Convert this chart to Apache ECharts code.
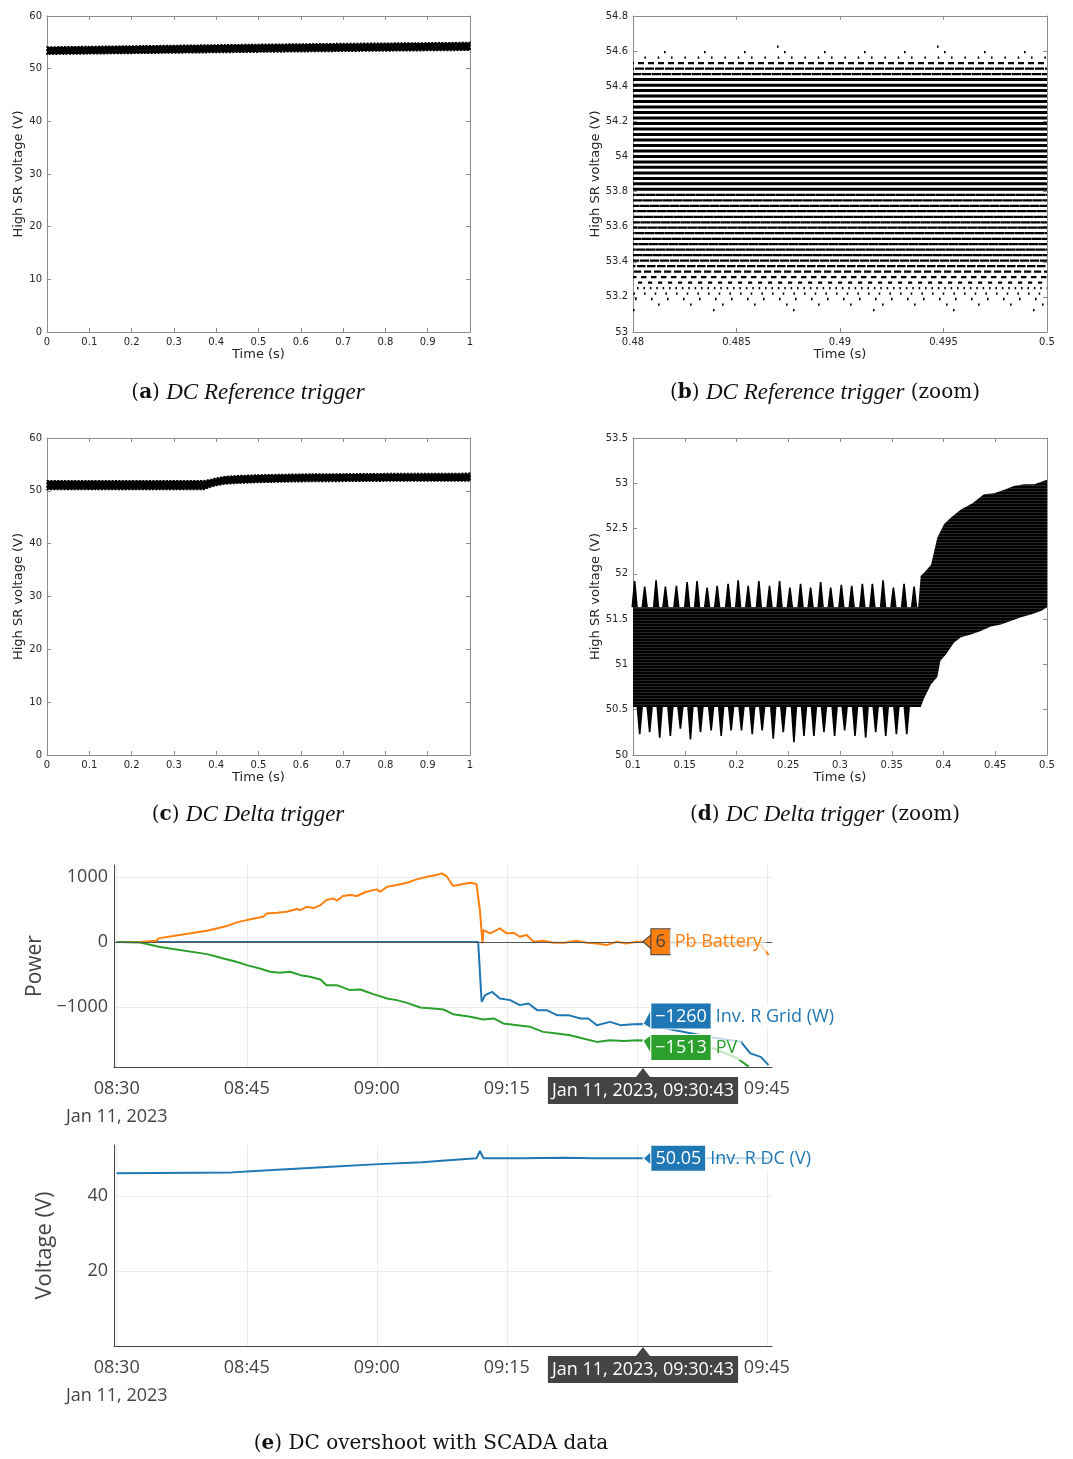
<!DOCTYPE html>
<html>
<head>
<meta charset="utf-8" />
<title>DC overshoot</title>
<script src="https://cdn.jsdelivr.net/npm/echarts@6/dist/echarts.min.js"></script>
<style>
  body { margin: 0; background: #fff; }
  #main { width: 1073px; height: 1459px; }
</style>
</head>
<body>
<div id="main"></div>
<script>
// (a) DC Reference trigger - envelope of the sampled band
var aTime = [0, 0.25, 0.5, 0.75, 1];
var aLow  = [52.75, 52.95, 53.15, 53.35, 53.5];
var aHigh = [54.1, 54.35, 54.6, 54.8, 54.95];

// (b) zoom - quantised levels and how much of each row is filled
var bSpan = [0.48, 0.5];
var bLevels = [53.125, 53.156, 53.188, 53.219, 53.25, 53.281, 53.313, 53.344, 53.375, 53.406,
  53.438, 53.469, 53.5, 53.531, 53.563, 53.594, 53.625, 53.656, 53.688, 53.719, 53.75, 53.781,
  53.813, 53.844, 53.875, 53.906, 53.938, 53.969, 54, 54.031, 54.063, 54.094, 54.125, 54.156,
  54.188, 54.219, 54.25, 54.281, 54.313, 54.344, 54.375, 54.406, 54.438, 54.469, 54.5, 54.531,
  54.563, 54.594, 54.625];
var bFill = [0.02, 0.05, 0.1, 0.15, 0.25, 0.42, 0.55, 0.72, 0.85, 0.92,
  0.97, 0.97, 0.97, 0.97, 0.97, 0.97, 0.97, 0.97, 0.97, 0.97, 0.97, 0.97,
  1, 1, 1, 1, 1, 1, 1, 1, 1, 1, 1, 1,
  1, 1, 1, 1, 1, 1, 1, 1, 1, 0.94, 0.9, 0.6,
  0.12, 0.04, 0.01];

// (c) DC Delta trigger
var cTime = [0, 0.37, 0.375, 0.39, 0.4, 0.42, 0.45, 0.5, 0.6, 0.7, 0.8, 1];
var cLow  = [50.25, 50.25, 50.4, 50.8, 51.0, 51.3, 51.45, 51.6, 51.75, 51.8, 51.85, 51.85];
var cHigh = [51.9, 51.9, 51.95, 52.2, 52.4, 52.7, 52.85, 53.0, 53.15, 53.2, 53.25, 53.3];

// (d) zoom - solid core of the band
var dUpT = [0.1, 0.3755, 0.378, 0.381, 0.388, 0.391, 0.394, 0.4006, 0.407, 0.4168, 0.428, 0.439, 0.449, 0.4587, 0.468, 0.478, 0.4877, 0.5];
var dUpV = [51.63, 51.63, 51.98, 52.01, 52.10, 52.25, 52.40, 52.55, 52.62, 52.71, 52.78, 52.88, 52.89, 52.93, 52.97, 52.99, 52.99, 53.04];
var dLoT = [0.1, 0.3755, 0.378, 0.381, 0.388, 0.394, 0.397, 0.4023, 0.41, 0.4168, 0.4265, 0.436, 0.4458, 0.4555, 0.465, 0.4748, 0.4845, 0.4942, 0.5];
var dLoV = [50.53, 50.53, 50.53, 50.62, 50.78, 50.86, 51.04, 51.11, 51.24, 51.30, 51.33, 51.37, 51.42, 51.44, 51.48, 51.52, 51.55, 51.59, 51.63];
// ripple peaks above the core and dips below it
var dTopBase = 51.63;
var dBotBase = 50.53;
var dPeakT = [0.1016, 0.1113, 0.1223, 0.1313, 0.1419, 0.1523, 0.1619, 0.1716, 0.1813, 0.1919, 0.2016, 0.2113, 0.2216, 0.2319,
  0.2416, 0.2516, 0.2619, 0.2716, 0.2813, 0.291, 0.3013, 0.3113, 0.3216, 0.3313, 0.3416, 0.3516, 0.3619, 0.3716];
var dPeakV = [51.92, 51.86, 51.93, 51.86, 51.87, 51.91, 51.92, 51.85, 51.87, 51.89, 51.93, 51.87, 51.92, 51.87,
  51.92, 51.85, 51.89, 51.85, 51.91, 51.85, 51.88, 51.87, 51.89, 51.89, 51.93, 51.85, 51.89, 51.86];
var dDipT = [0.1065, 0.1161, 0.1258, 0.1361, 0.1458, 0.1555, 0.1652, 0.1755, 0.1852, 0.1948, 0.2048, 0.2152, 0.2248, 0.2355,
  0.2452, 0.2555, 0.2652, 0.2748, 0.2845, 0.2948, 0.3045, 0.3145, 0.3248, 0.3345, 0.3442, 0.3545, 0.3645];
var dDipV = [50.23, 50.25, 50.19, 50.21, 50.29, 50.17, 50.25, 50.27, 50.21, 50.27, 50.27, 50.23, 50.27, 50.18,
  50.25, 50.14, 50.21, 50.21, 50.25, 50.21, 50.27, 50.21, 50.19, 50.25, 50.21, 50.23, 50.23];

// (e) SCADA data, Jan 11 2023
var dateText = 'Jan 11, 2023';
var hoverTime = '09:30:43';
var timeTicks = ['08:30', '08:45', '09:00', '09:15', '09:30', '09:45'];
var powerTicks = [-1000, 0, 1000];
var voltTicks = [20, 40];

var batteryPts = [['08:30', 0], ['08:32:42', 0], ['08:34:36', 20], ['08:34:48', 57], ['08:36:30', 92], ['08:40:24', 174],
  ['08:41:30', 210], ['08:42:42', 246], ['08:43:51', 303], ['08:45:00', 338], ['08:46:54', 389], ['08:47:18', 441],
  ['08:48:30', 451], ['08:49:36', 466], ['08:50:48', 508], ['08:51:12', 492], ['08:51:54', 543], ['08:52:42', 523],
  ['08:53:30', 569], ['08:54:12', 646], ['08:55:00', 672], ['08:55:24', 636], ['08:56:06', 708], ['08:56:54', 723],
  ['08:57:42', 708], ['08:58:48', 774], ['09:00:00', 810], ['09:00:24', 774], ['09:01:12', 851], ['09:02:18', 877],
  ['09:03:30', 913], ['09:04:36', 964], ['09:05:48', 1005], ['09:06:54', 1031], ['09:07:30', 1056], ['09:08:06', 1005],
  ['09:08:48', 862], ['09:10:00', 892], ['09:10:48', 913], ['09:11:30', 892], ['09:11:54', 492], ['09:12:12', -20],
  ['09:12:18', 185], ['09:13:06', 134], ['09:14:12', 210], ['09:15:00', 134], ['09:15:48', 144], ['09:16:30', 82],
  ['09:17:18', 108], ['09:18:06', 5], ['09:19:12', 20], ['09:20:24', -10], ['09:21:42', -10], ['09:23:00', 20],
  ['09:24:12', -10], ['09:25:24', -20], ['09:26:30', -46], ['09:27:42', 5], ['09:28:48', -20], ['09:30:00', 5],
  ['09:30:43', 6], ['09:36:00', -10], ['09:40:00', -30], ['09:44:18', -40], ['09:45:12', -200]];

var gridPts = [['08:30', 0], ['09:11:42', 0], ['09:12:06', -918], ['09:12:30', -815], ['09:13:18', -764], ['09:14:12', -867],
  ['09:15:24', -892], ['09:16:30', -969], ['09:17:30', -944], ['09:18:30', -1046], ['09:19:36', -1046], ['09:20:48', -1123],
  ['09:22:06', -1123], ['09:23:30', -1174], ['09:24:24', -1174], ['09:25:24', -1277], ['09:26:54', -1226],
  ['09:28:06', -1277], ['09:29:36', -1262], ['09:30:43', -1260], ['09:38:54', -1470], ['09:42:00', -1531],
  ['09:43:06', -1710], ['09:44:18', -1764], ['09:45:12', -1892]];

var pvPts = [['08:30', 0], ['08:32:42', -5], ['08:35:00', -75], ['08:40:24', -185], ['08:41:54', -236], ['08:42:18', -251],
  ['08:43:48', -303], ['08:45:00', -354], ['08:46:30', -405], ['08:47:42', -456], ['08:48:48', -472], ['08:50:00', -456],
  ['08:51:12', -508], ['08:52:18', -533], ['08:53:30', -574], ['08:54:12', -662], ['08:55:24', -662], ['08:56:54', -738],
  ['08:58:06', -728], ['08:59:36', -800], ['09:01:12', -867], ['09:02:18', -892], ['09:03:30', -934], ['09:05:00', -1005],
  ['09:06:30', -1020], ['09:07:42', -1036], ['09:08:48', -1108], ['09:10:48', -1149], ['09:12:18', -1190],
  ['09:13:30', -1174], ['09:14:36', -1251], ['09:16:12', -1277], ['09:17:42', -1303], ['09:19:12', -1380],
  ['09:20:48', -1405], ['09:22:18', -1431], ['09:23:48', -1482], ['09:25:24', -1534], ['09:26:54', -1508],
  ['09:28:30', -1520], ['09:30:00', -1508], ['09:30:43', -1513], ['09:38:54', -1636], ['09:41:36', -1785],
  ['09:42:54', -1915]];

var dcPts = [['08:30', 46.05], ['08:43:18', 46.3], ['08:46:00', 46.67], ['08:53:42', 47.65], ['09:00:12', 48.5],
  ['09:05:12', 49.0], ['09:07:30', 49.4], ['09:11:30', 50.05], ['09:11:54', 52.0], ['09:12:18', 50.1], ['09:16:42', 50.05],
  ['09:21:36', 50.2], ['09:25:06', 50.05], ['09:30:43', 50.05], ['09:45:20', 50.05]];

function toMin(s) {
  var p = s.split(':').map(Number);
  return p[0] * 60 + p[1] + (p[2] || 0) / 60;
}
function pad(n) { return (n < 10 ? '0' : '') + n; }
function hhmm(v) {
  var h = Math.floor(v / 60 + 1e-6), m = Math.round(v - h * 60);
  return pad(h) + ':' + pad(m);
}
function minus(v) { return v < 0 ? '\u2212' + Math.abs(v) : String(v); }
function pts(list) { return list.map(function (p) { return [toMin(p[0]), p[1]]; }); }
function valueAt(list, t) {
  for (var i = 0; i < list.length; i++) if (list[i][0] === t) return list[i][1];
}

var hoverMin = toMin(hoverTime);
var tickMins = timeTicks.map(toMin);

// ---------- axes helpers ----------
var sciFont = 'DejaVu Sans';
var boxColor = '#8c8c8c';
function sciX(grid, min, max, step, main) {
  return {
    type: 'value', gridIndex: grid, min: min, max: max, interval: step,
    position: main ? 'bottom' : 'top',
    name: main ? 'Time (s)' : '', nameLocation: 'middle', nameGap: 15,
    nameTextStyle: { fontFamily: sciFont, fontSize: 13, color: '#262626' },
    axisLine: { show: true, onZero: false, lineStyle: { color: boxColor } },
    axisTick: { show: true, inside: true, length: 4, lineStyle: { color: boxColor } },
    axisLabel: { show: main, margin: 5, fontFamily: sciFont, fontSize: 10, color: '#262626' },
    splitLine: { show: false }
  };
}
function sciY(grid, min, max, step, main, gap) {
  return {
    type: 'value', gridIndex: grid, min: min, max: max, interval: step,
    position: main ? 'left' : 'right',
    name: main ? 'High SR voltage (V)' : '', nameLocation: 'middle', nameGap: gap,
    nameTextStyle: { fontFamily: sciFont, fontSize: 13, color: '#262626' },
    axisLine: { show: true, onZero: false, lineStyle: { color: boxColor } },
    axisTick: { show: true, inside: true, length: 4, lineStyle: { color: boxColor } },
    axisLabel: { show: main, margin: 5, fontFamily: sciFont, fontSize: 10, color: '#262626' },
    splitLine: { show: false }
  };
}
var scadaFont = 'Open Sans';
function timeAxis(grid) {
  return {
    type: 'value', gridIndex: grid, min: toMin('08:29:41'), max: toMin('09:45:36'),
    axisLine: { show: true, onZero: false, lineStyle: { color: '#444' } },
    axisTick: { show: false, customValues: tickMins },
    axisLabel: {
      customValues: tickMins, margin: 8, fontFamily: scadaFont, fontSize: 18, color: '#444', lineHeight: 28,
      formatter: function (v) { return Math.abs(v - tickMins[0]) < 1e-6 ? hhmm(v) + '\n' + dateText : hhmm(v); }
    },
    splitLine: { show: true, lineStyle: { color: '#ebebeb', width: 1 } }
  };
}
function scadaY(grid, min, max, ticks, name, gap, nameSize) {
  return {
    type: 'value', gridIndex: grid, min: min, max: max,
    name: name, nameLocation: 'middle', nameGap: gap,
    nameTextStyle: { fontFamily: scadaFont, fontSize: nameSize, color: '#444' },
    axisLine: { show: true, lineStyle: { color: '#444' } },
    axisTick: { show: false, customValues: ticks },
    axisLabel: { customValues: ticks, margin: 6, fontFamily: scadaFont, fontSize: 18, color: '#444', formatter: minus },
    splitLine: { show: true, lineStyle: { color: '#ebebeb', width: 1 } }
  };
}

// ---------- custom shapes ----------
// faint horizontal striation seen inside the (d) band
var stripe = document.createElement('canvas');
stripe.width = 4; stripe.height = 3;
(function () {
  var g = stripe.getContext('2d');
  g.fillStyle = '#000'; g.fillRect(0, 0, 4, 3);
  g.fillStyle = '#262626'; g.fillRect(0, 2, 4, 1);
})();

function bandSeries(xi, upT, upV, loT, loV, fill, fuzzy) {
  return {
    type: 'custom', xAxisIndex: xi, yAxisIndex: xi, silent: true,
    data: [[upT[0], upV[0]]],
    renderItem: function (params, api) {
      var p = [], i;
      for (i = 0; i < upT.length; i++) p.push(api.coord([upT[i], upV[i]]));
      for (i = loT.length - 1; i >= 0; i--) p.push(api.coord([loT[i], loV[i]]));
      var style = { fill: fill || '#000' };
      if (fuzzy) { style.stroke = '#000'; style.lineWidth = 1.6; style.lineDash = [2, 1.4]; }
      return { type: 'polygon', shape: { points: p }, style: style };
    }
  };
}
function teethSeries(xi, ts, vs, base) {
  return {
    type: 'custom', xAxisIndex: xi, yAxisIndex: xi, silent: true,
    data: ts.map(function (t, i) { return [t, vs[i]]; }),
    renderItem: function (params, api) {
      var tip = api.coord([api.value(0), api.value(1)]);
      var b = api.coord([api.value(0), base]);
      return {
        type: 'polygon',
        shape: { points: [[b[0] - 3.2, b[1]], [tip[0] - 0.8, tip[1]], [tip[0] + 0.8, tip[1]], [b[0] + 3.2, b[1]]] },
        style: { fill: '#000' }
      };
    }
  };
}

// hover label like the SCADA tool: arrow at the point, value box and series name
function hoverItem(t, v, text, color, txtColor, border, name, dy) {
  var top = Math.max(Math.min(0, dy) - 7, dy - 13);
  var bot = Math.min(Math.max(0, dy) + 7, dy + 13);
  var h = bot - top;
  return {
    coord: [t, v],
    symbol: 'path://M0,' + (-top) + ' L8,0 L8,' + h + ' Z',
    symbolSize: [8, h],
    symbolOffset: [4, (top + bot) / 2],
    itemStyle: { color: color, borderColor: border, borderWidth: 1 },
    label: {
      show: true, position: 'right', distance: 0, offset: [0, dy - (top + bot) / 2],
      formatter: '{v|' + text + '}{n|' + name + '}',
      rich: {
        v: { backgroundColor: color, color: txtColor, borderColor: border, borderWidth: 1, fontFamily: scadaFont,
          fontSize: 18, lineHeight: 20, padding: [4, 4, 3, 4] },
        n: { color: color, backgroundColor: 'rgba(255,255,255,0.72)', fontFamily: scadaFont, fontSize: 18,
          lineHeight: 20, padding: [4, 4, 3, 5] }
      }
    }
  };
}
function timeBox(t, v) {
  return {
    coord: [t, v],
    symbol: 'triangle', symbolSize: [14, 9], symbolOffset: [0, 5.5],
    itemStyle: { color: '#444' },
    label: {
      show: true, position: 'bottom', distance: 0,
      formatter: dateText + ', ' + hoverTime,
      backgroundColor: '#444', color: '#fff', fontFamily: scadaFont, fontSize: 18, lineHeight: 20,
      padding: [4, 4, 3, 4]
    }
  };
}

// ---------- series ----------
var series = [];
series.push(bandSeries(0, aTime, aHigh, aTime, aLow, '#000', true));
bLevels.forEach(function (lv, i) {
  var f = bFill[i];
  var dash = f >= 0.99 ? 'solid' : (f < 0.3 ? [1.6, 1.6 / f - 1.6] : [10 * f, 10 - 10 * f]);
  series.push({
    type: 'line', xAxisIndex: 2, yAxisIndex: 2, silent: true, symbol: 'none',
    data: [[bSpan[0], lv], [bSpan[1], lv]],
    lineStyle: { color: '#000', width: f >= 0.99 ? 3 : 2.3, type: dash, dashOffset: i * 7 }
  });
});
series.push(bandSeries(4, cTime, cHigh, cTime, cLow, '#000', true));
series.push(bandSeries(6, dUpT, dUpV, dLoT, dLoV, { image: stripe, repeat: 'repeat' }));
series.push(teethSeries(6, dPeakT, dPeakV, dTopBase));
series.push(teethSeries(6, dDipT, dDipV, dBotBase));

var gridHover = valueAt(gridPts, hoverTime);
var pvHover = valueAt(pvPts, hoverTime);
var batHover = valueAt(batteryPts, hoverTime);
var dcHover = valueAt(dcPts, hoverTime);

series.push({
  type: 'line', name: 'Inv. R Grid (W)', xAxisIndex: 8, yAxisIndex: 8, data: pts(gridPts), symbol: 'none',
  lineStyle: { color: '#1f77b4', width: 2 }, z: 3,
  markPoint: { silent: true, z: 10, data: [hoverItem(hoverMin, gridHover, minus(gridHover), '#1f77b4', '#fff', '#fff', 'Inv. R Grid (W)', -8)] }
});
series.push({
  type: 'line', name: 'Pb Battery', xAxisIndex: 8, yAxisIndex: 8, data: pts(batteryPts), symbol: 'none',
  lineStyle: { color: '#ff7f0e', width: 2 }, z: 3,
  markLine: { silent: true, symbol: 'none', label: { show: false }, lineStyle: { color: '#555', width: 1, type: 'solid' },
    data: [{ yAxis: 0 }] },
  markPoint: { silent: true, z: 10, data: [hoverItem(hoverMin, batHover, minus(batHover), '#ff7f0e', '#444', '#444', 'Pb Battery', 0)] }
});
series.push({
  type: 'line', name: 'PV', xAxisIndex: 8, yAxisIndex: 8, data: pts(pvPts), symbol: 'none',
  lineStyle: { color: '#2ca02c', width: 2 }, z: 3,
  markPoint: { silent: true, z: 10, data: [
    hoverItem(hoverMin, pvHover, minus(pvHover), '#2ca02c', '#fff', '#fff', 'PV', 7),
    timeBox(hoverMin, -1920)
  ] }
});
series.push({
  type: 'line', name: 'Inv. R DC (V)', xAxisIndex: 9, yAxisIndex: 9, data: pts(dcPts), symbol: 'none',
  lineStyle: { color: '#1f77b4', width: 2 }, z: 3,
  markPoint: { silent: true, z: 10, data: [
    hoverItem(hoverMin, dcHover, String(dcHover), '#1f77b4', '#fff', '#fff', 'Inv. R DC (V)', 0),
    timeBox(hoverMin, 0)
  ] }
});

// ---------- captions ----------
var capFont = 'DejaVu Serif';
var capItalic = 'Liberation Serif';
function caption(x, y, letter, italic, plain) {
  return {
    type: 'text', x: x, y: y, silent: true,
    style: {
      text: '({b|' + letter + '}) ' + (italic ? '{i|' + italic + '}' : '') + (plain || ''),
      align: 'center', verticalAlign: 'middle', fontFamily: capFont, fontSize: 20, fill: '#111',
      rich: {
        b: { fontFamily: capFont, fontSize: 20, fontWeight: 'bold', color: '#111' },
        i: { fontFamily: capItalic, fontSize: 23, fontStyle: 'italic', color: '#111' }
      }
    }
  };
}

var chart = echarts.init(document.getElementById('main'));
chart.setOption({
  animation: false,
  backgroundColor: '#fff',
  grid: [
    { left: 47, top: 16, width: 423, height: 316 },
    { left: 633, top: 16, width: 414, height: 316 },
    { left: 47, top: 438, width: 423, height: 317 },
    { left: 633, top: 438, width: 414, height: 317 },
    { left: 114, top: 865, width: 658, height: 202 },
    { left: 114, top: 1145, width: 658, height: 201 }
  ],
  xAxis: [
    sciX(0, 0, 1, 0.1, true), sciX(0, 0, 1, 0.1, false),
    sciX(1, 0.48, 0.5, 0.005, true), sciX(1, 0.48, 0.5, 0.005, false),
    sciX(2, 0, 1, 0.1, true), sciX(2, 0, 1, 0.1, false),
    sciX(3, 0.1, 0.5, 0.05, true), sciX(3, 0.1, 0.5, 0.05, false),
    timeAxis(4), timeAxis(5)
  ],
  yAxis: [
    sciY(0, 0, 60, 10, true, 20), sciY(0, 0, 60, 10, false, 0),
    sciY(1, 53, 54.8, 0.2, true, 28), sciY(1, 53, 54.8, 0.2, false, 0),
    sciY(2, 0, 60, 10, true, 20), sciY(2, 0, 60, 10, false, 0),
    sciY(3, 50, 53.5, 0.5, true, 28), sciY(3, 50, 53.5, 0.5, false, 0),
    scadaY(4, -1920, 1185, powerTicks, 'Power', 63, 21),
    scadaY(5, 0, 53.6, voltTicks, 'Voltage (V)', 58, 22)
  ],
  series: series,
  graphic: [
    caption(248, 393, 'a', 'DC Reference trigger'),
    caption(825, 393, 'b', 'DC Reference trigger', ' (zoom)'),
    caption(248, 815, 'c', 'DC Delta trigger'),
    caption(825, 815, 'd', 'DC Delta trigger', ' (zoom)'),
    caption(431, 1444, 'e', '', 'DC overshoot with SCADA data')
  ]
});
</script>
</body>
</html>
